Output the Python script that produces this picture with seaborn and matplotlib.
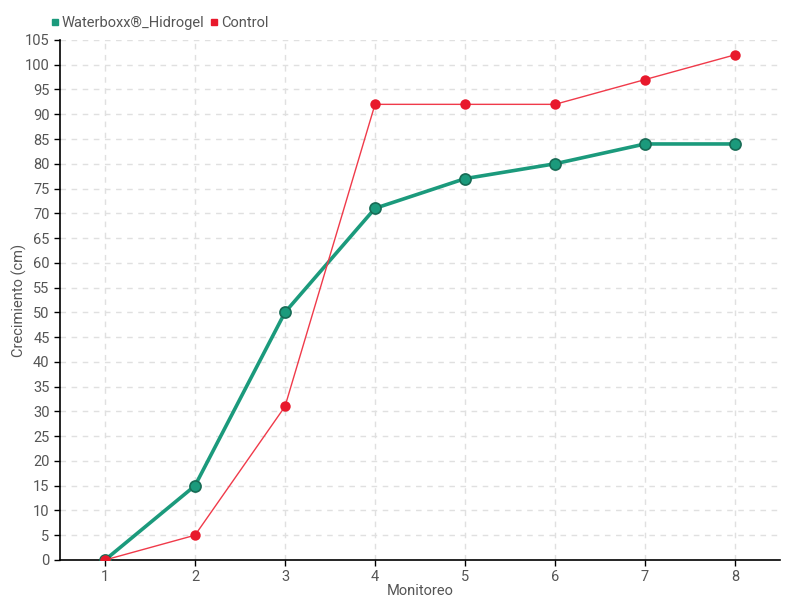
import matplotlib
matplotlib.use("Agg")
import matplotlib.pyplot as plt
from matplotlib.lines import Line2D
import seaborn as sns
import pandas as pd

monitoreo = [1, 2, 3, 4, 5, 6, 7, 8]
waterboxx = [0, 15, 50, 71, 77, 80, 84, 84]
control = [0, 5, 31, 92, 92, 92, 97, 102]
series_names = ["Waterboxx®_Hidrogel", "Control"]
colors = {"Waterboxx®_Hidrogel": "#1b9a7c", "Control": "#e8192c"}

df = pd.DataFrame({
    "Monitoreo": monitoreo * 2,
    "Crecimiento": waterboxx + control,
    "Serie": [series_names[0]] * len(monitoreo) + [series_names[1]] * len(monitoreo),
})

sns.set_style("white")
plt.rcParams['font.family'] = ['Roboto', 'DejaVu Sans']

fig = plt.figure(figsize=(8, 6), dpi=100)
ax = fig.add_axes([0.075, 0.0667, 0.9, 0.8667])

g = df[df.Serie == series_names[0]]
r = df[df.Serie == series_names[1]]
sns.lineplot(data=g, x="Monitoreo", y="Crecimiento", color=colors[series_names[0]],
             linewidth=2.6, marker="o", markersize=8, markeredgecolor="#176b55",
             markeredgewidth=1.2, ax=ax, zorder=3)
sns.lineplot(data=r, x="Monitoreo", y="Crecimiento", color="#f03a4a",
             linewidth=1, marker="o", markersize=7.5, markerfacecolor=colors["Control"],
             markeredgecolor=colors["Control"], markeredgewidth=0, ax=ax, zorder=4)

ax.set_xlim(0.5, 8.5)
ax.set_ylim(0, 105)
ax.set_xticks(monitoreo)
ax.set_yticks(range(0, 106, 5))
ax.grid(True, color="#e0e0e0", linestyle=(0, (4, 4)), linewidth=1)
ax.set_axisbelow(True)
for s in ["top", "right"]:
    ax.spines[s].set_visible(False)
for s in ["left", "bottom"]:
    ax.spines[s].set_color("black")
    ax.spines[s].set_linewidth(1.2)
ax.tick_params(axis="both", direction="out", length=4, width=1, color="black",
               labelcolor="#555555", labelsize=10.5, left=True, bottom=True)
ax.set_xlabel("Monitoreo", color="#555555", fontsize=10.5, labelpad=0)
ax.set_ylabel("Crecimiento (cm)", color="#555555", fontsize=10.5)
ax.yaxis.set_label_coords(-0.046, 0.5)

handles = [Line2D([], [], marker="s", linestyle="none", color=colors[n], markersize=5)
           for n in series_names]
fig.legend(handles, series_names, loc="upper left", bbox_to_anchor=(0.045, 0.995),
           ncol=2, frameon=False, handletextpad=0.05, columnspacing=0.3,
           labelcolor="#555555", fontsize=10.5, handlelength=0.8)

fig.savefig("out.png", dpi=100)
